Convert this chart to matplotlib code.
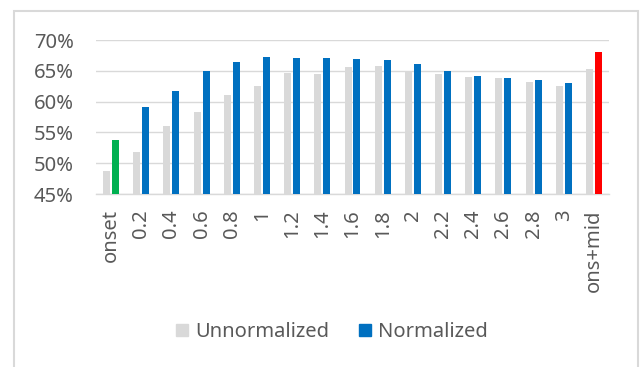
import matplotlib
matplotlib.use("Agg")
import matplotlib.pyplot as plt
from matplotlib.patches import Rectangle, Patch
from matplotlib.ticker import FuncFormatter

plt.rcParams['font.family'] = ['Noto Sans', 'DejaVu Sans']

categories = ["onset", "0.2", "0.4", "0.6", "0.8", "1", "1.2", "1.4", "1.6", "1.8",
              "2", "2.2", "2.4", "2.6", "2.8", "3", "ons+mid"]
unnormalized = [48.7, 51.8, 56.0, 58.3, 61.1, 62.6, 64.6, 64.5, 65.6, 65.8,
                65.0, 64.4, 64.0, 63.9, 63.2, 62.5, 65.3]
normalized = [53.8, 59.2, 61.8, 65.0, 66.5, 67.3, 67.1, 67.1, 66.9, 66.7,
              66.1, 65.0, 64.2, 63.9, 63.5, 63.1, 68.1]
y_ticks = [45, 50, 55, 60, 65, 70]

GRAY = "#D9D9D9"
BLUE = "#0070C0"
TEXT = "#595959"
FS = 14.5
norm_colors = [BLUE] * len(categories)
norm_colors[0] = "#00B050"
norm_colors[-1] = "#FF0000"

fig = plt.figure(figsize=(6.44, 3.67), dpi=100)
ax = fig.add_axes([96 / 644, 1 - 194 / 367, (609 - 96) / 644, (194 - 40) / 367])

x = list(range(len(categories)))
w = 0.232
off = 0.149
ax.bar([i - off for i in x], [v - 45 for v in unnormalized], bottom=45,
       width=w, color=GRAY, zorder=3)
ax.bar([i + off for i in x], [v - 45 for v in normalized], bottom=45,
       width=w, color=norm_colors, zorder=3)

ax.set_xlim(-0.5, len(categories) - 0.5)
ax.set_ylim(45, 70)
ax.set_yticks(y_ticks)
ax.yaxis.set_major_formatter(FuncFormatter(lambda v, p: f"{v:.0f}%"))
ax.set_xticks(x)
ax.set_xticklabels(categories, rotation=90)
ax.tick_params(axis='y', length=0, pad=16, labelsize=FS, labelcolor=TEXT)
ax.tick_params(axis='x', length=0, pad=11, labelsize=FS, labelcolor=TEXT)
ax.grid(axis='y', color=GRAY, linewidth=1.0, zorder=0)
for s in ["top", "right", "left"]:
    ax.spines[s].set_visible(False)
ax.spines["bottom"].set_color(GRAY)
ax.spines["bottom"].set_linewidth(1.0)

# chart frame
fig.patches.append(Rectangle((14 / 644, -0.1), (638 - 14) / 644, 1.1 - 11 / 367,
                             transform=fig.transFigure, fill=False,
                             edgecolor=GRAY, linewidth=1.5))

handles = [Patch(color=GRAY, label="Unnormalized"), Patch(color=BLUE, label="Normalized")]
fig.legend(handles=handles, loc="center", bbox_to_anchor=(332 / 644, 1 - 332 / 367),
           ncol=2, frameon=False, fontsize=FS, labelcolor=TEXT,
           handlelength=0.6, handleheight=0.6, handletextpad=0.35, columnspacing=1.5)

fig.savefig("out.png", dpi=100)
